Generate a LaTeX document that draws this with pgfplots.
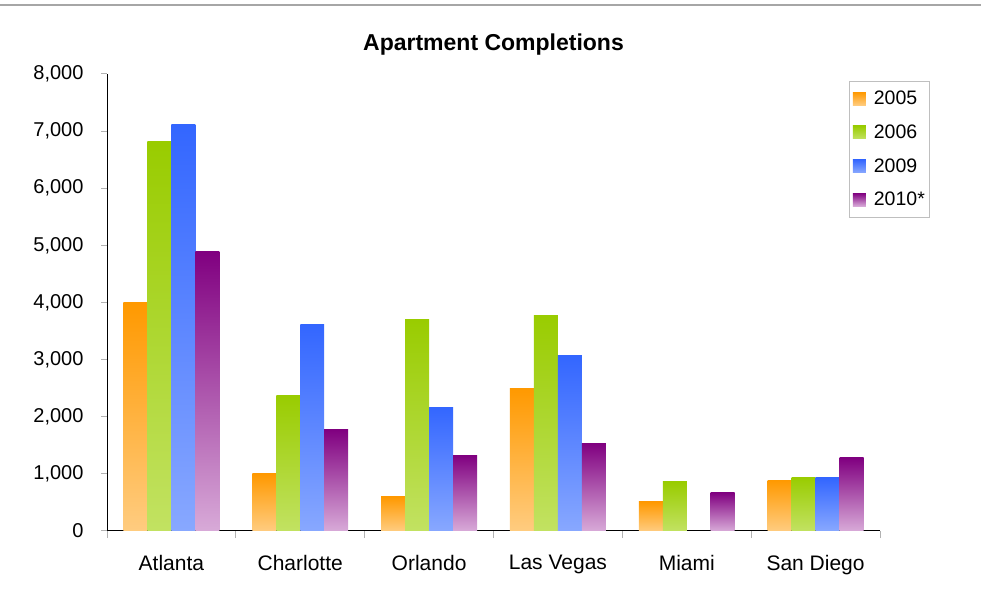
\documentclass[border=0pt]{standalone}
\usepackage{pgfplots}
\pgfplotsset{compat=1.18}
\usepackage{fontspec}
\setmainfont{Liberation Sans}
\definecolor{oT}{HTML}{FF9900}
\definecolor{oB}{HTML}{FFCC80}
\definecolor{gT}{HTML}{99CC00}
\definecolor{gB}{HTML}{C2E262}
\definecolor{bT}{HTML}{3366FF}
\definecolor{bB}{HTML}{88A8FF}
\definecolor{pT}{HTML}{800080}
\definecolor{pB}{HTML}{D8AAD8}
% one bar per plot so that each bar gets its own vertical gradient
% #1 = colour prefix, #2 = bar shift, #3 = category index, #4 = value
\newcommand\onebar[4]{\addplot[draw=none, top color=#1T, bottom color=#1B, bar shift=#2, forget plot] coordinates {(#3,#4)};}
\newcommand\legimg[1]{\addlegendimage{legend image code/.code={\path[draw=none,top color=#1T,bottom color=#1B] (0pt,-6.5pt) rectangle (13pt,6.5pt);}}}
\begin{document}
\begin{tikzpicture}[x=1pt,y=1pt]
\path[use as bounding box] (0,0) rectangle (981,596);
\draw[gray!70, line width=1.2pt] (0,591) -- (981,591);
\begin{axis}[
 at={(107pt,65pt)}, anchor=south west,
 scale only axis, width=773pt, height=457pt,
 xmin=-0.5, xmax=5.5, ymin=0, ymax=8000,
 axis lines=left, axis line style={-, black, line width=1pt},
 ytick={0,1000,...,8000},
 xtick={0,...,5},
 xticklabels={Atlanta,Charlotte,Orlando,Las Vegas,Miami,San Diego},
 minor xtick={-0.5,0.5,...,5.5},
 major x tick style={draw=none},
 minor x tick style={gray!60, line width=1pt},
 y tick style={gray!60, line width=1pt},
 tick align=outside,
 major tick length=6pt, minor tick length=7pt,
 scaled y ticks=false,
 /pgf/number format/assume math mode=true,
 /pgf/number format/1000 sep={,},
 yticklabel style={font=\fontsize{20}{24}\selectfont, xshift=-14pt},
 xticklabel style={font=\fontsize{21}{25}\selectfont, yshift=-15pt},
 ybar, bar width=0.186,
 title={Apartment Completions},
 title style={font=\bfseries\fontsize{23}{27}\selectfont, at={(0.5,1)}, anchor=base, yshift=17pt},
 legend style={at={(1.065,0.985)}, anchor=north east, draw=gray!50, line width=0.8pt,
   font=\fontsize{19.5}{23}\selectfont, row sep=14.5pt, column sep=6pt, inner xsep=3pt, inner ysep=8pt},
 legend cell align=left,
]
\legimg{o}\addlegendentry{2005}
\legimg{g}\addlegendentry{2006}
\legimg{b}\addlegendentry{2009}
\legimg{p}\addlegendentry{2010*}
% 2005
\onebar{o}{-0.279}{0}{4000}
\onebar{o}{-0.279}{1}{1000}
\onebar{o}{-0.279}{2}{600}
\onebar{o}{-0.279}{3}{2500}
\onebar{o}{-0.279}{4}{510}
\onebar{o}{-0.279}{5}{890}
% 2006
\onebar{g}{-0.093}{0}{6810}
\onebar{g}{-0.093}{1}{2380}
\onebar{g}{-0.093}{2}{3710}
\onebar{g}{-0.093}{3}{3780}
\onebar{g}{-0.093}{4}{860}
\onebar{g}{-0.093}{5}{945}
% 2009
\onebar{b}{0.093}{0}{7120}
\onebar{b}{0.093}{1}{3620}
\onebar{b}{0.093}{2}{2170}
\onebar{b}{0.093}{3}{3080}
\onebar{b}{0.093}{5}{930}
% 2010*
\onebar{p}{0.279}{0}{4900}
\onebar{p}{0.279}{1}{1770}
\onebar{p}{0.279}{2}{1330}
\onebar{p}{0.279}{3}{1540}
\onebar{p}{0.279}{4}{670}
\onebar{p}{0.279}{5}{1280}
\end{axis}
\end{tikzpicture}
\end{document}
